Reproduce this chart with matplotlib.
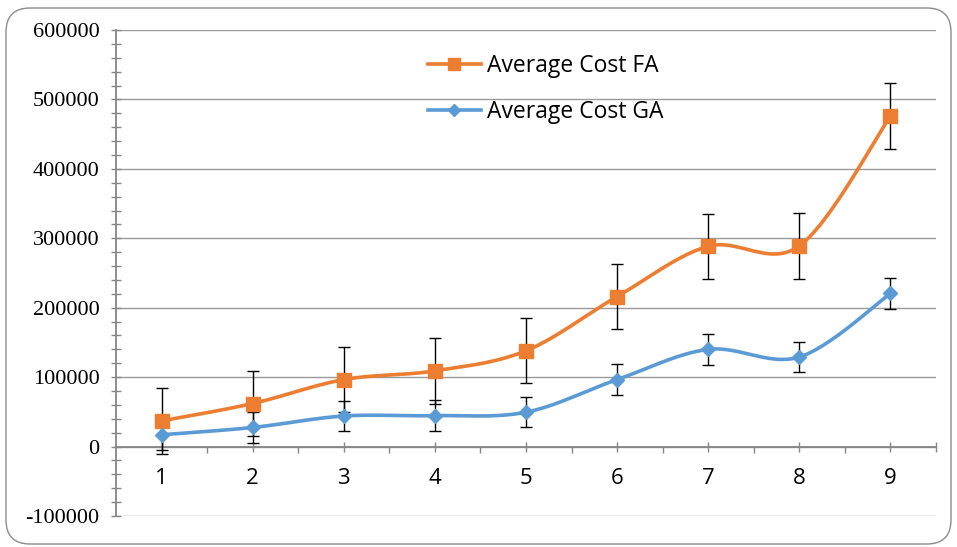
import numpy as np
import matplotlib
matplotlib.use("Agg")
import matplotlib.pyplot as plt
from matplotlib.patches import FancyBboxPatch
from matplotlib.lines import Line2D

# ---- data ----
categories = [1, 2, 3, 4, 5, 6, 7, 8, 9]
cost_fa = [37000, 62000, 96500, 109000, 138000, 216000, 288500, 289000, 476000]
cost_ga = [17000, 27500, 44000, 44500, 49500, 96500, 140000, 129000, 220500]
err_fa = [47000, 47000, 47000, 47000, 47000, 47000, 47000, 47000, 47000]
err_ga = [22000, 22000, 22000, 22000, 22000, 22000, 22000, 22000, 22000]
x_labels = ["1", "2", "3", "4", "5", "6", "7", "8", "9"]
y_ticks = [-100000, 0, 100000, 200000, 300000, 400000, 500000, 600000]
series_names = ["Average Cost FA", "Average Cost GA"]

ORANGE = "#ED7D31"
BLUE = "#5B9BD5"
AXIS_GRAY = "#868686"
GRID_GRAY = "#9a9a9a"
SANS = ["Open Sans", "DejaVu Sans"]
SERIF = ["Liberation Serif", "DejaVu Serif"]


def smooth(xs, ys, n=30):
    """Excel-like smoothed line: Catmull-Rom converted to cubic Bezier."""
    xs = np.asarray(xs, float)
    ys = np.asarray(ys, float)
    P = np.column_stack([xs, ys])
    m = len(P)
    out = []
    t = np.linspace(0, 1, n)[:, None]
    for i in range(m - 1):
        p0 = P[i - 1] if i > 0 else P[i]
        p1 = P[i]
        p2 = P[i + 1]
        p3 = P[i + 2] if i + 2 < m else P[i + 1]
        c1 = p1 + (p2 - p0) / 6.0
        c2 = p2 - (p3 - p1) / 6.0
        seg = ((1 - t) ** 3) * p1 + 3 * ((1 - t) ** 2) * t * c1 + 3 * (1 - t) * t ** 2 * c2 + t ** 3 * p2
        out.append(seg if i == 0 else seg[1:])
    s = np.vstack(out)
    return s[:, 0], s[:, 1]


W, H = 957, 547
fig = plt.figure(figsize=(W / 100, H / 100), dpi=100)
fig.patch.set_facecolor("white")

# rounded chart border
border = FancyBboxPatch((6, 3), 945, 536, boxstyle="round,pad=0,rounding_size=24",
                        transform=None, facecolor="none", edgecolor="#8c8c8c", linewidth=1.0)
fig.patches.append(border)

left, right = 116 / W, 936 / W
top, bottom = 1 - 30 / H, 1 - 516 / H
ax = fig.add_axes([left, bottom, right - left, top - bottom])
ax.set_facecolor("none")

ax.set_xlim(0.5, 9.5)
ax.set_ylim(-100000, 600000)

# grid
ax.set_yticks(y_ticks)
ax.set_yticklabels([str(v) for v in y_ticks], fontfamily=SERIF, fontsize=16)
ax.set_yticks(np.arange(-100000, 600001, 20000), minor=True)
ax.yaxis.grid(True, which="major", color=GRID_GRAY, linewidth=1.0, zorder=0)
ax.set_axisbelow(True)

# spines
for s in ["top", "right"]:
    ax.spines[s].set_visible(False)
ax.spines["left"].set_color(AXIS_GRAY)
ax.spines["left"].set_linewidth(1.3)
ax.spines["bottom"].set_position(("data", 0))
ax.spines["bottom"].set_color(AXIS_GRAY)
ax.spines["bottom"].set_linewidth(1.3)

ax.tick_params(axis="y", which="both", direction="inout", length=7.5, width=1.0,
               color=AXIS_GRAY, pad=8, labelcolor="black")

ax.set_xticks(categories + [9.5])
ax.set_xticklabels(x_labels + [""], fontfamily=SANS, fontsize=16)
ax.set_xticks([1.5, 2.5, 3.5, 4.5, 5.5, 6.5, 7.5, 8.5], minor=True)
ax.tick_params(axis="x", which="major", direction="inout", length=7, width=1.0,
               color=AXIS_GRAY, pad=12, labelcolor="black")
ax.tick_params(axis="x", which="minor", direction="out", length=4, width=1.0,
               color=AXIS_GRAY)

# error bars
ax.errorbar(categories, cost_fa, yerr=err_fa, fmt="none", ecolor="black",
            elinewidth=1.0, capsize=4, capthick=1.0, zorder=3)
ax.errorbar(categories, cost_ga, yerr=err_ga, fmt="none", ecolor="black",
            elinewidth=1.0, capsize=4, capthick=1.0, zorder=3)

# smoothed lines
sx, sy = smooth(categories, cost_fa)
ax.plot(sx, sy, color=ORANGE, linewidth=2.6, solid_capstyle="round", zorder=4)
sx, sy = smooth(categories, cost_ga)
ax.plot(sx, sy, color=BLUE, linewidth=2.6, solid_capstyle="round", zorder=4)

# markers
ax.plot(categories, cost_fa, linestyle="none", marker="s", markersize=9.5,
        color=ORANGE, markeredgecolor=ORANGE, zorder=5)
ax.plot(categories, cost_ga, linestyle="none", marker="D", markersize=7.5,
        color=BLUE, markeredgecolor=BLUE, zorder=5)

# legend
handles = [
    Line2D([], [], color=ORANGE, linewidth=2.6, marker="s", markersize=8.5,
           markeredgecolor=ORANGE),
    Line2D([], [], color=BLUE, linewidth=2.6, marker="D", markersize=6.5,
           markeredgecolor=BLUE),
]
leg = fig.legend(handles, series_names, loc="center left",
                 bbox_to_anchor=(428 / W, 1 - 89 / H), frameon=False,
                 prop={"family": SANS, "size": 16.5}, handlelength=2.3,
                 handletextpad=0.27, labelspacing=0.95, borderpad=0,
                 borderaxespad=0)

fig.savefig("out.png", dpi=100)
